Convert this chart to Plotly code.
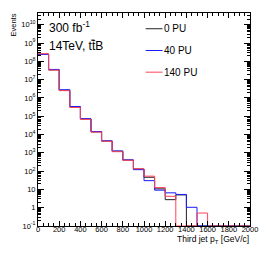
import plotly.graph_objects as go

bin_edges = [0, 100, 200, 300, 400, 500, 600, 700, 800, 900, 1000,
             1100, 1200, 1300, 1400, 1500, 1600, 1700, 1800, 1900, 2000]

pu0 = [2.45e8, 3.4e7, 2.6e6, 3.2e5, 7.1e4, 1.4e4, 4.4e3, 1.23e3, 4.0e2, 1.3e2,
       46, 10.7, 2.75, 5.0, 0, 0, 0, 0, 0, 0]
pu40 = [2.4e8, 3.6e7, 2.8e6, 3.4e5, 7.3e4, 1.45e4, 4.5e3, 1.25e3, 4.1e2, 1.2e2,
        30, 9.1, 6.5, 5.3, 1.05, 0, 0, 0, 0, 0]
pu140 = [2.6e8, 3.3e7, 2.5e6, 3.0e5, 6.7e4, 1.35e4, 4.3e3, 1.15e3, 3.9e2, 1.35e2,
         53, 12.6, 4.2, 0, 0, 0.51, 0, 0, 0, 0]

series_names = ["0 PU", "40 PU", "140 PU"]
series_values = [pu0, pu40, pu140]
series_colors = ["#222222", "#1a1aff", "#ff4455"]

x_tickvals = [0, 200, 400, 600, 800, 1000, 1200, 1400, 1600, 1800, 2000]
y_tickvals = [1e10, 1e9, 1e8, 1e7, 1e6, 1e5, 1e4, 1e3, 1e2, 10, 1, 0.1]
y_ticktext = ["10<sup>10</sup>", "10<sup>9</sup>", "10<sup>8</sup>", "10<sup>7</sup>",
              "10<sup>6</sup>", "10<sup>5</sup>", "10<sup>4</sup>", "10<sup>3</sup>",
              "10<sup>2</sup>", "10", "1", "10<sup>-1</sup>"]

YMIN = 0.1
FONT = "Liberation Sans, Arial, Helvetica, sans-serif"

fig = go.Figure()
for name, vals, col in zip(series_names, series_values, series_colors):
    yv = [v if v > 0 else YMIN for v in vals]
    fig.add_trace(go.Scatter(
        x=bin_edges, y=yv + [yv[-1]], name=name, mode="lines",
        line=dict(color=col, width=1, shape="hv"), showlegend=False,
        hoverinfo="skip"))

W, H = 270, 259
L, R, T, B = 38, 258.5, 13.3, 225.7
pw, ph = R - L, B - T

def px(x):
    return (x - L) / pw

def py(y):
    return (B - y) / ph

annotations = [
    dict(text="300 fb<sup>-1</sup>", x=px(48), y=py(27), xanchor="left", yanchor="middle",
         font=dict(size=12, color="black", family=FONT)),
    dict(text="14TeV, tt\u0304B", x=px(48), y=py(46.5), xanchor="left", yanchor="middle",
         font=dict(size=12, color="black", family=FONT)),
    dict(text="Events", x=px(12), y=1, xanchor="center", yanchor="top", textangle=-90,
         font=dict(size=7.5, color="black", family=FONT)),
    dict(text="Third jet p<sub>T</sub> [GeV/c]", x=1.0, y=py(239), xanchor="right", yanchor="middle",
         font=dict(size=8.5, color="black", family=FONT)),
]
shapes = [dict(type="line", xref="paper", yref="paper", x0=px(93.4), x1=px(96.8),
               y0=py(40.3), y1=py(40.3), line=dict(color="black", width=0.9))]
leg_y = [29, 50.7, 72.3]
for name, col, yy in zip(series_names, series_colors, leg_y):
    shapes.append(dict(type="line", xref="paper", yref="paper", x0=px(150), x1=px(167.5),
                       y0=py(yy), y1=py(yy), line=dict(color=col, width=1)))
    annotations.append(dict(text=name, x=px(168), y=py(yy), xanchor="left", yanchor="middle",
                            font=dict(size=10, color="black", family=FONT)))
for a in annotations:
    a.update(xref="paper", yref="paper", showarrow=False, borderpad=0)

fig.update_layout(
    width=W, height=H,
    margin=dict(l=L, r=W - R, t=T, b=H - B, pad=0),
    paper_bgcolor="white", plot_bgcolor="white",
    font=dict(family=FONT, size=7.5, color="black"),
    annotations=annotations, shapes=shapes,
    xaxis=dict(range=[0, 2000], tickmode="array", tickvals=x_tickvals,
               ticks="inside", ticklen=5, tickwidth=1, tickcolor="black",
               showline=True, linecolor="black", linewidth=1, mirror="allticks",
               showgrid=False, zeroline=False, tickfont=dict(size=7.5),
               ticklabelstandoff=-4,
               minor=dict(dtick=50, ticks="inside", ticklen=3, tickcolor="black", showgrid=False)),
    yaxis=dict(type="log", range=[-1, 10.64], tickmode="array", tickvals=y_tickvals,
               ticktext=y_ticktext, ticks="inside", ticklen=6, tickwidth=1, tickcolor="black",
               showline=True, linecolor="black", linewidth=1, mirror="allticks",
               showgrid=False, zeroline=False, tickfont=dict(size=7.5),
               minor=dict(dtick="D1", ticks="inside", ticklen=3, tickcolor="black", showgrid=False)),
)

fig.write_html("out.html", config={"displayModeBar": False},
               post_script="document.body.style.margin='0px';")
